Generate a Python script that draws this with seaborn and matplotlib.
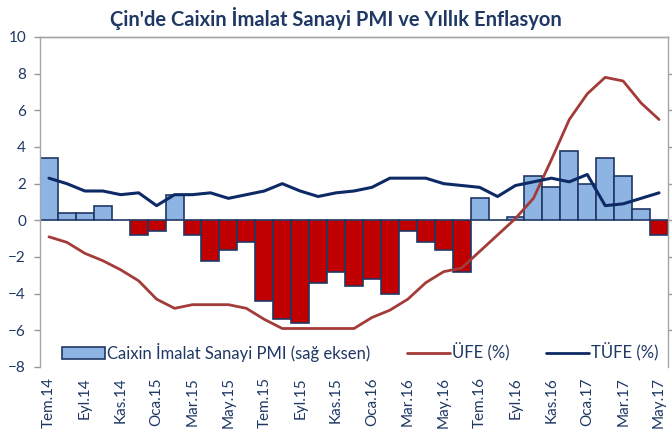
import numpy as np
import pandas as pd
import matplotlib
matplotlib.use("Agg")
import matplotlib.pyplot as plt
import seaborn as sns
from matplotlib.patches import Patch
from matplotlib.lines import Line2D

# aylar Tem.14 - May.17
months = ["Tem.14", "Ağu.14", "Eyl.14", "Eki.14", "Kas.14", "Ara.14",
          "Oca.15", "Şub.15", "Mar.15", "Nis.15", "May.15", "Haz.15",
          "Tem.15", "Ağu.15", "Eyl.15", "Eki.15", "Kas.15", "Ara.15",
          "Oca.16", "Şub.16", "Mar.16", "Nis.16", "May.16", "Haz.16",
          "Tem.16", "Ağu.16", "Eyl.16", "Eki.16", "Kas.16", "Ara.16",
          "Oca.17", "Şub.17", "Mar.17", "Nis.17", "May.17"]

pmi = [51.7, 50.2, 50.2, 50.4, 50.0, 49.6,
       49.7, 50.7, 49.6, 48.9, 49.2, 49.4,
       47.8, 47.3, 47.2, 48.3, 48.6, 48.2,
       48.4, 48.0, 49.7, 49.4, 49.2, 48.6,
       50.6, 50.0, 50.1, 51.2, 50.9, 51.9,
       51.0, 51.7, 51.2, 50.3, 49.6]

ufe = [-0.9, -1.2, -1.8, -2.2, -2.7, -3.3,
       -4.3, -4.8, -4.6, -4.6, -4.6, -4.8,
       -5.4, -5.9, -5.9, -5.9, -5.9, -5.9,
       -5.3, -4.9, -4.3, -3.4, -2.8, -2.6,
       -1.7, -0.8, 0.1, 1.2, 3.3, 5.5,
       6.9, 7.8, 7.6, 6.4, 5.5]

tufe = [2.3, 2.0, 1.6, 1.6, 1.4, 1.5,
        0.8, 1.4, 1.4, 1.5, 1.2, 1.4,
        1.6, 2.0, 1.6, 1.3, 1.5, 1.6,
        1.8, 2.3, 2.3, 2.3, 2.0, 1.9,
        1.8, 1.3, 1.9, 2.1, 2.3, 2.1,
        2.5, 0.8, 0.9, 1.2, 1.5]

navy = "#1F3864"
blue = "#8DB4E2"
red = "#C00000"
ufe_col = "#A33B38"
tufe_col = "#0D2A66"

df = pd.DataFrame({"ay": months, "pmi": pmi, "ufe": ufe, "tufe": tufe})
df["i"] = np.arange(len(df))
df["fark"] = df["pmi"] - 50

sns.set_style("white")
plt.rcParams["font.family"] = ["Lato", "DejaVu Sans"]

fig = plt.figure(figsize=(6.72, 4.41), dpi=100)
ax = fig.add_axes([40 / 672, 1 - 367 / 441, 628 / 672, 330 / 441])
axr = ax.twinx()

# PMI barlari sag eksende (50 merkezli)
cols = [blue if v >= 0 else red for v in df["fark"]]
axr.bar(df["i"], df["fark"], bottom=50, width=1.0, color=cols,
        edgecolor=navy, linewidth=1.2)
axr.set_ylim(46, 55)
axr.set_yticks(np.arange(47, 55, 1))
axr.tick_params(axis="y", right=True, labelright=False, length=4,
                color="#999999", width=1)

# enflasyon cizgileri sol eksende
ax.set_zorder(axr.get_zorder() + 1)
ax.patch.set_visible(False)
sns.lineplot(data=df, x="i", y="ufe", ax=ax, color=ufe_col, linewidth=2.0,
             legend=False)
sns.lineplot(data=df, x="i", y="tufe", ax=ax, color=tufe_col, linewidth=2.2,
             legend=False)

ax.set_xlim(-0.5, len(df) - 0.5)
ax.set_ylim(-8, 10)
ax.set_yticks(np.arange(-8, 11, 2))
ax.set_xticks(df["i"][::2])
ax.set_xticklabels(df["ay"][::2], rotation=90)
ax.set_xlabel("")
ax.set_ylabel("")
ax.tick_params(axis="y", left=True, length=4, color="#999999", width=1,
               labelsize=11, labelcolor=navy, pad=6)
ax.tick_params(axis="x", bottom=False, labelsize=11, labelcolor=navy, pad=4)

for a in (ax, axr):
    for s in ("left", "right", "top"):
        a.spines[s].set_color("#A6A6A6")
        a.spines[s].set_linewidth(1)
    a.spines["bottom"].set_visible(False)
axr.spines["left"].set_visible(False)
ax.spines["right"].set_visible(False)

handles = [Patch(facecolor=blue, edgecolor=navy, linewidth=1.2,
                 label="Caixin İmalat Sanayi PMI (sağ eksen)"),
           Line2D([], [], color=ufe_col, linewidth=2, label="ÜFE (%)"),
           Line2D([], [], color=tufe_col, linewidth=2, label="TÜFE (%)")]
leg = ax.legend(handles=handles, loc="lower center", ncol=3, frameon=False,
                bbox_to_anchor=(0.51, -0.03), fontsize=12,
                handlelength=2.6, handletextpad=0.1, columnspacing=2.2)
for t in leg.get_texts():
    t.set_color(navy)

fig.text(0.5, 0.958, "Çin'de Caixin İmalat Sanayi PMI ve Yıllık Enflasyon",
         ha="center", va="center", fontsize=14.5, fontweight="bold",
         color=navy)

fig.savefig("out.png", dpi=100)
